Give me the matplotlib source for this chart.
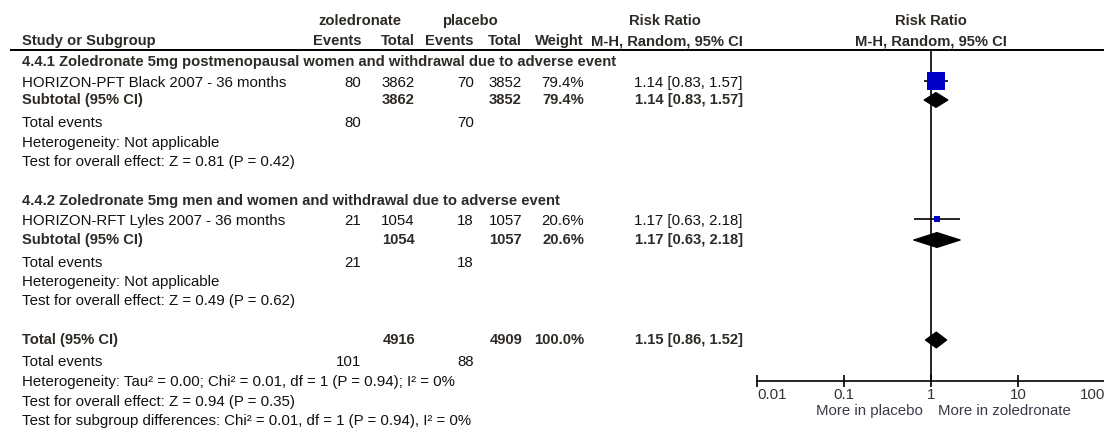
"""Forest plot: zoledronate vs placebo, withdrawal due to adverse event."""

from __future__ import annotations

import matplotlib

matplotlib.use("Agg")
from matplotlib.axes import Axes
from matplotlib.patches import Polygon
import matplotlib.pyplot as plt

# ---- data -------------------------------------------------------------
subgroup_titles = [
    "4.4.1 Zoledronate 5mg postmenopausal women and withdrawal due to adverse event",
    "4.4.2 Zoledronate 5mg men and women and withdrawal due to adverse event",
]
study_names = [
    "HORIZON-PFT Black 2007 - 36 months",
    "HORIZON-RFT Lyles 2007 - 36 months",
]
zol_events = [80, 21]
zol_total = [3862, 1054]
pla_events = [70, 18]
pla_total = [3852, 1057]
weights = [79.4, 20.6]
rr = [1.14, 1.17]
rr_lo = [0.83, 0.63]
rr_hi = [1.57, 2.18]

subgroup_effect = [
    "Test for overall effect: Z = 0.81 (P = 0.42)",
    "Test for overall effect: Z = 0.49 (P = 0.62)",
]
pooled_rr = 1.15
pooled_lo = 0.86
pooled_hi = 1.52
pooled_notes = [
    "Heterogeneity: Tau\u00b2 = 0.00; Chi\u00b2 = 0.01, df = 1 (P = 0.94); I\u00b2 = 0%",
    "Test for overall effect: Z = 0.94 (P = 0.35)",
    "Test for subgroup differences: Chi\u00b2 = 0.01, df = 1 (P = 0.94), I\u00b2 = 0%",
]
axis_ticks = [0.01, 0.1, 1, 10, 100]
axis_labels = ["0.01", "0.1", "1", "10", "100"]
favours = ["More in placebo", "More in zoledronate"]

# ---- layout (pixels, figure is 1104 x 430) ----------------------------
W, H = 1104, 430
FONT = "Liberation Sans"
FS = 10.8
FS_BOLD = 10.6
TXT = "#111111"
BOLD_TXT = "#2e2a26"
BLUE = "#0000c8"

X_STUDY = 22
X_EV1, X_TOT1, X_EV2, X_TOT2, X_WT, X_CI = 361, 415, 474, 522, 584, 743
HEAD1_Y, HEAD2_Y, RULE_Y = 21, 41, 50
FOREST_LEFT, FOREST_RIGHT = 757, 1105
AXIS_Y = 381

# y of each row inside a subgroup block: title, study, subtotal,
# total events, heterogeneity, overall effect
BLOCK_Y = [
    [62, 83, 100, 123, 143, 162],
    [201, 221, 240, 263, 282, 301],
]
TOTAL_Y = [340, 362, 382, 402, 421]


def put(ax: Axes, x: float, y: float, s: str, ha: str = "left",
        bold: bool = False) -> None:
    """Write one table cell."""
    ax.text(
        x, y, s, ha=ha, va="center", family=FONT,
        fontsize=FS_BOLD if bold else FS,
        fontweight="bold" if bold else "normal",
        color=BOLD_TXT if bold else TXT,
    )


def ci_text(est: float, lo: float, hi: float) -> str:
    return f"{est:.2f} [{lo:.2f}, {hi:.2f}]"


def diamond(ax: Axes, y: float, est: float, lo: float, hi: float,
            half: float = 7.5) -> None:
    """Pooled estimate drawn as a filled diamond."""
    ax.add_patch(Polygon(
        [(lo, y), (est, y - half), (hi, y), (est, y + half)],
        closed=True, facecolor="black", edgecolor="black", lw=0.8,
    ))


def draw_table(ax: Axes) -> None:
    # column headers
    put(ax, 360, HEAD1_Y, "zoledronate", ha="center", bold=True)
    put(ax, 470, HEAD1_Y, "placebo", ha="center", bold=True)
    put(ax, 665, HEAD1_Y, "Risk Ratio", ha="center", bold=True)
    put(ax, X_STUDY, HEAD2_Y, "Study or Subgroup", bold=True)
    for x, s in [(X_EV1, "Events"), (X_TOT1, "Total"), (X_EV2, "Events"),
                 (X_TOT2, "Total"), (X_WT, "Weight"),
                 (X_CI, "M-H, Random, 95% CI")]:
        put(ax, x, HEAD2_Y, s, ha="right", bold=True)
    ax.hlines(RULE_Y, 10, W, color="black", lw=1.4)

    for i, ys in enumerate(BLOCK_Y):
        put(ax, X_STUDY, ys[0], subgroup_titles[i], bold=True)
        # study row
        put(ax, X_STUDY, ys[1], study_names[i])
        put(ax, X_EV1, ys[1], str(zol_events[i]), ha="right")
        put(ax, X_TOT1, ys[1], str(zol_total[i]), ha="right")
        put(ax, X_EV2, ys[1], str(pla_events[i]), ha="right")
        put(ax, X_TOT2, ys[1], str(pla_total[i]), ha="right")
        put(ax, X_WT, ys[1], f"{weights[i]:.1f}%", ha="right")
        put(ax, X_CI, ys[1], ci_text(rr[i], rr_lo[i], rr_hi[i]), ha="right")
        # subtotal row (one study per subgroup)
        put(ax, X_STUDY, ys[2], "Subtotal (95% CI)", bold=True)
        put(ax, X_TOT1, ys[2], str(zol_total[i]), ha="right", bold=True)
        put(ax, X_TOT2, ys[2], str(pla_total[i]), ha="right", bold=True)
        put(ax, X_WT, ys[2], f"{weights[i]:.1f}%", ha="right", bold=True)
        put(ax, X_CI, ys[2], ci_text(rr[i], rr_lo[i], rr_hi[i]), ha="right", bold=True)
        put(ax, X_STUDY, ys[3], "Total events")
        put(ax, X_EV1, ys[3], str(zol_events[i]), ha="right")
        put(ax, X_EV2, ys[3], str(pla_events[i]), ha="right")
        put(ax, X_STUDY, ys[4], "Heterogeneity: Not applicable")
        put(ax, X_STUDY, ys[5], subgroup_effect[i])

    put(ax, X_STUDY, TOTAL_Y[0], "Total (95% CI)", bold=True)
    put(ax, X_TOT1, TOTAL_Y[0], str(sum(zol_total)), ha="right", bold=True)
    put(ax, X_TOT2, TOTAL_Y[0], str(sum(pla_total)), ha="right", bold=True)
    put(ax, X_WT, TOTAL_Y[0], f"{sum(weights):.1f}%", ha="right", bold=True)
    put(ax, X_CI, TOTAL_Y[0], ci_text(pooled_rr, pooled_lo, pooled_hi),
        ha="right", bold=True)
    put(ax, X_STUDY, TOTAL_Y[1], "Total events")
    put(ax, X_EV1, TOTAL_Y[1], str(sum(zol_events)), ha="right")
    put(ax, X_EV2, TOTAL_Y[1], str(sum(pla_events)), ha="right")
    for y, s in zip(TOTAL_Y[2:], pooled_notes):
        put(ax, X_STUDY, y, s)


def draw_forest(fx: Axes) -> None:
    fx.set_xscale("log")
    fx.set_xlim(axis_ticks[0], axis_ticks[-1])
    fx.set_ylim(H, 0)
    fx.patch.set_visible(False)
    for side in ("left", "right", "top"):
        fx.spines[side].set_visible(False)
    fx.spines["bottom"].set_position(("data", AXIS_Y))
    fx.spines["bottom"].set_linewidth(1.2)
    fx.set_yticks([])
    fx.set_xticks(axis_ticks, axis_labels)
    fx.minorticks_off()
    fx.tick_params(axis="x", direction="inout", length=9, width=1.2, pad=0.5,
                   labelsize=FS, labelcolor="#333333")
    labels = fx.get_xticklabels()
    for lab in labels:
        lab.set_family(FONT)
    labels[0].set_ha("left")
    labels[-1].set_ha("right")

    put(fx, 1, HEAD1_Y, "Risk Ratio", ha="center", bold=True)
    put(fx, 1, HEAD2_Y, "M-H, Random, 95% CI", ha="center", bold=True)
    fx.vlines(1, RULE_Y, AXIS_Y, color="black", lw=1.2)

    for i, ys in enumerate(BLOCK_Y):
        fx.hlines(ys[1] - 2, rr_lo[i], rr_hi[i], color="black", lw=1.2)
        side_px = 2 + 0.214 * weights[i]
        fx.plot(rr[i], ys[1] - 2, marker="s", markersize=side_px * 0.72,
                color=BLUE, markeredgewidth=0)
        diamond(fx, ys[2], rr[i], rr_lo[i], rr_hi[i])
    diamond(fx, TOTAL_Y[0], pooled_rr, pooled_lo, pooled_hi, half=8)

    fx.annotate(favours[0], xy=(1, 411), xytext=(-8, 0),
                textcoords="offset pixels", ha="right", va="center",
                family=FONT, fontsize=FS, color="#3a3a4a")
    fx.annotate(favours[1], xy=(1, 411), xytext=(7, 0),
                textcoords="offset pixels", ha="left", va="center",
                family=FONT, fontsize=FS, color="#3a3a4a")


def main() -> None:
    fig = plt.figure(figsize=(W / 100, H / 100), dpi=100)
    ax = fig.add_axes([0, 0, 1, 1])
    ax.set_xlim(0, W)
    ax.set_ylim(H, 0)
    ax.axis("off")
    draw_table(ax)

    fx = fig.add_axes([FOREST_LEFT / W, 0, (FOREST_RIGHT - FOREST_LEFT) / W, 1])
    draw_forest(fx)
    fig.savefig("out.png", dpi=100, facecolor="white")
    plt.close(fig)


if __name__ == "__main__":
    main()
